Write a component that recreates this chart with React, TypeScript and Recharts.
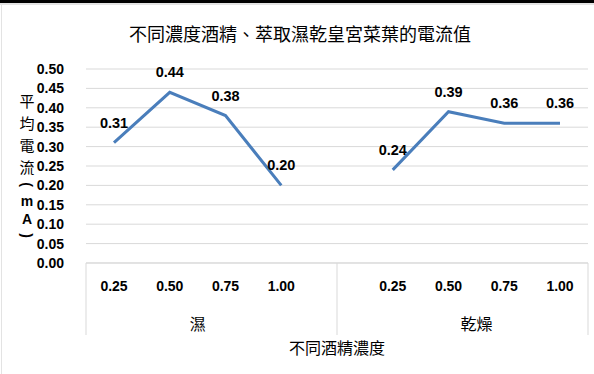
import React from 'react'
import { LineChart, Line, XAxis, YAxis, CartesianGrid, LabelList, Label } from 'recharts'

// concentrations per group, with an empty slot separating 濕 and 乾燥
const groups = ['濕', '乾燥']
const concentrations = ['0.25', '0.50', '0.75', '1.00']
const wetCurrent = [0.31, 0.44, 0.38, 0.2]
const dryCurrent = [0.24, 0.39, 0.36, 0.36]
const yTicks = [0, 0.05, 0.1, 0.15, 0.2, 0.25, 0.3, 0.35, 0.4, 0.45, 0.5]

const rows = [
  ...concentrations.map((c, i) => ({ conc: c, group: groups[0], current: wetCurrent[i] as number | null })),
  { conc: '', group: '', current: null as number | null },
  ...concentrations.map((c, i) => ({ conc: c, group: groups[1], current: dryCurrent[i] as number | null })),
]
const data = rows.map((r, i) => ({ ...r, slot: i }))

const GRID = '#d9d9d9'
const BLUE = '#4a7ebb'
const LATIN = '"Liberation Sans", Arial, sans-serif'
const CJK = '"Noto Sans CJK TC", "Noto Sans CJK SC", sans-serif'
const EDGE = 28 // half a slot: space between the plot edge and the first/last point

// Two-level category axis: concentration on the first row, group name under
// the middle of each group, with light box lines like a spreadsheet chart.
function GroupedTick(props: any) {
  const { x, y, payload } = props
  const index = Number(payload?.value)
  const row = data[index]
  if (!row) return null
  const boxH = 72
  const top = y - 8
  const parts: React.ReactNode[] = []
  if (row.conc) {
    parts.push(
      <text key="c" x={x} y={y + 20} textAnchor="middle" fontFamily={LATIN} fontWeight="bold" fontSize={14} fill="#000">
        {row.conc}
      </text>
    )
  }
  if (index === 0) parts.push(<line key="l" x1={x - EDGE} x2={x - EDGE} y1={top} y2={top + boxH} stroke={GRID} />)
  if (!row.conc) parts.push(<line key="m" x1={x} x2={x} y1={top} y2={top + boxH} stroke={GRID} />)
  if (index === data.length - 1) parts.push(<line key="r" x1={x + EDGE} x2={x + EDGE} y1={top} y2={top + boxH} stroke={GRID} />)
  // group label sits between the 2nd and 3rd entries of the group
  if (row.conc && concentrations.indexOf(row.conc) === 1) {
    parts.push(
      <text key="g" x={x + EDGE} y={y + 59} textAnchor="middle" fontFamily={CJK} fontSize={16} fill="#000">
        {row.group}
      </text>
    )
  }
  return <g>{parts}</g>
}

// vertical stacked y-axis title, brackets turned sideways
function YTitle(props: any) {
  const { viewBox } = props
  const chars = Array.from('平均電流(mA)')
  const stepOf = (ch: string) => (/[()]/.test(ch) ? 15 : /[A-Za-z]/.test(ch) ? 18 : 22)
  const cx = 27
  const heights = chars.map(stepOf)
  const total = heights.reduce((a, b) => a + b, 0)
  let cursor = viewBox.y + viewBox.height / 2 - total / 2
  return (
    <g>
      {chars.map((ch, i) => {
        const isParen = ch === '(' || ch === ')'
        const isLatin = /[A-Za-z()]/.test(ch)
        const ty = cursor + heights[i] / 2
        cursor += heights[i]
        return (
          <text
            key={i}
            x={cx}
            y={ty}
            textAnchor="middle"
            dominantBaseline="central"
            fontFamily={isLatin ? LATIN : CJK}
            fontWeight={isLatin ? 'bold' : 'normal'}
            fontSize={isLatin ? 14 : 15}
            transform={isParen ? `rotate(90 ${cx} ${ty})` : undefined}
            fill="#000"
          >
            {ch}
          </text>
        )
      })}
    </g>
  )
}

export default function App() {
  return (
    <div style={{ width: 594, height: 374, position: 'relative', background: '#fff', overflow: 'hidden' }}>
      <style>{'body{margin:0}'}</style>
      <div style={{ position: 'absolute', left: 0, top: 0, width: 594, height: 3, background: '#000' }} />
      <div style={{ position: 'absolute', left: 0, top: 3, width: 594, height: 2, background: '#e3e3e3' }} />
      <div style={{ position: 'absolute', left: 1, top: 5, width: 1, height: 369, background: '#e3e3e3' }} />
      <div
        style={{
          position: 'absolute', left: 0, top: 20, width: 600, textAlign: 'center',
          fontFamily: CJK, fontSize: 18, color: '#000', lineHeight: '26px',
        }}
      >
        不同濃度酒精、萃取濕乾皇宮菜葉的電流值
      </div>
      <LineChart
        width={594}
        height={374}
        data={data}
        margin={{ top: 69, right: 6, bottom: 0, left: 0 }}
        style={{ position: 'absolute', left: 0, top: 0 }}
      >
        <CartesianGrid vertical={false} stroke={GRID} strokeWidth={1} />
        <XAxis
          dataKey="slot"
          type="category"
          interval={0}
          padding={{ left: EDGE, right: EDGE }}
          axisLine={{ stroke: GRID }}
          tickLine={false}
          tick={<GroupedTick />}
          height={111}
        >
          <Label value="不同酒精濃度" position="insideBottom" offset={20} fontFamily={CJK} fontSize={16} fill="#000" />
        </XAxis>
        <YAxis
          domain={[0, 0.5]}
          ticks={yTicks}
          interval={0}
          width={86}
          axisLine={false}
          tickLine={false}
          tickMargin={16}
          tickFormatter={(v: number) => v.toFixed(2)}
          tick={{ fontFamily: LATIN, fontWeight: 'bold', fontSize: 14, fill: '#000' }}
        >
          <Label content={<YTitle />} />
        </YAxis>
        <Line
          dataKey="current"
          stroke={BLUE}
          strokeWidth={3}
          dot={false}
          connectNulls={false}
          isAnimationActive={false}
        >
          <LabelList
            dataKey="current"
            position="top"
            offset={15}
            formatter={(v: any) => (v == null ? '' : Number(v).toFixed(2))}
            style={{ fontFamily: LATIN, fontWeight: 'bold', fontSize: 14.5, fill: '#000' }}
          />
        </Line>
      </LineChart>
    </div>
  )
}
